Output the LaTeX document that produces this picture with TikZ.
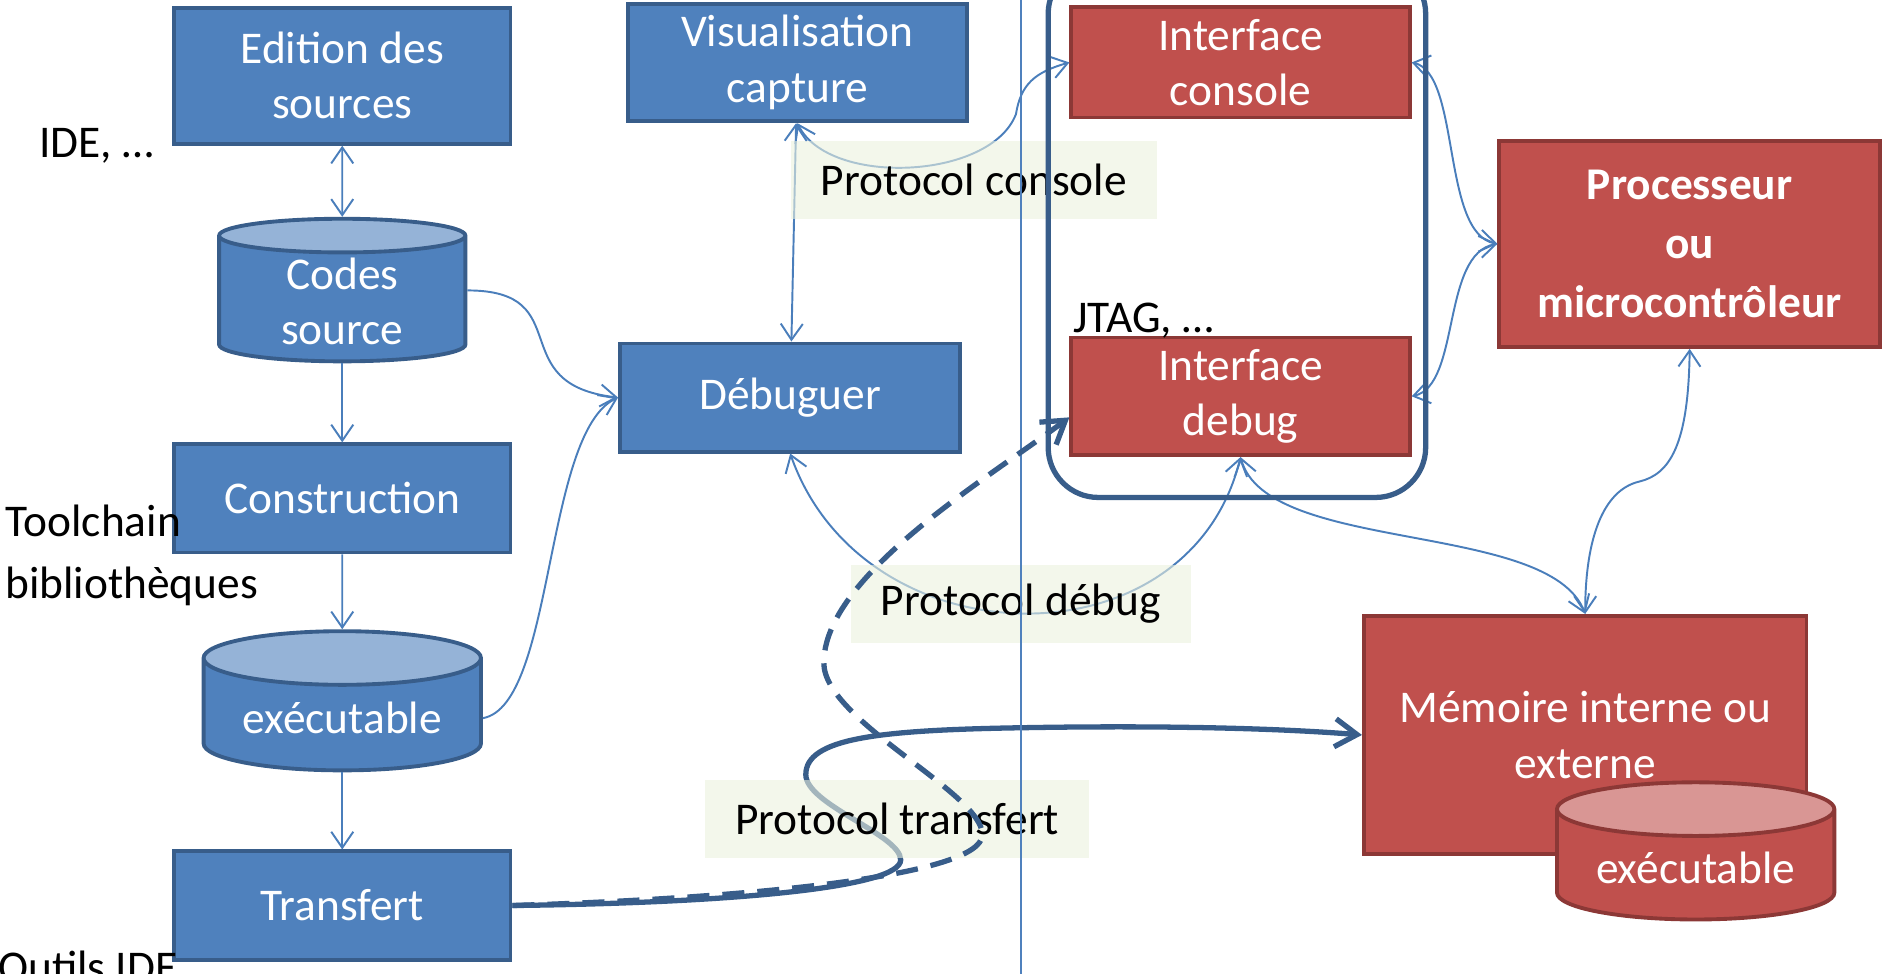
\documentclass[tikz,border=0pt]{standalone}
\usepackage{fontspec}
\setmainfont{Carlito}
\usetikzlibrary{shapes.geometric,arrows.meta}

\definecolor{boxblue}{HTML}{4F81BD}
\definecolor{edgeblue}{HTML}{385D8A}
\definecolor{topblue}{HTML}{95B3D7}
\definecolor{linkblue}{HTML}{4A7EBB}
\definecolor{boxred}{HTML}{C0504D}
\definecolor{edgered}{HTML}{8C3836}
\definecolor{topred}{HTML}{D99694}
\definecolor{tagback}{HTML}{EBF1DE}

\newcommand{\diagfont}{\fontsize{12.9}{15.7}\selectfont}

\tikzset{
  bluebox/.style={draw=edgeblue, fill=boxblue, line width=1.1pt, text=white, align=center},
  redbox/.style={draw=edgered, fill=boxred, line width=1.1pt, text=white, align=center},
  bluecyl/.style={cylinder, shape border rotate=90, aspect=0.26, inner sep=1pt, draw=edgeblue, line width=1.1pt,
    cylinder uses custom fill, cylinder body fill=boxblue, cylinder end fill=topblue,
    text=white, align=center},
  redcyl/.style={cylinder, shape border rotate=90, aspect=0.26, inner sep=1pt, draw=edgered, line width=1.1pt,
    cylinder uses custom fill, cylinder body fill=boxred, cylinder end fill=topred,
    text=white, align=center},
  link/.style={draw=linkblue, line width=0.55pt},
  bus/.style={draw=edgeblue, line width=1.5pt, -{Straight Barb[length=2.2mm,width=2.8mm]}},
  tag/.style={fill=tagback, fill opacity=0.6, text opacity=1, inner sep=0pt},
  note/.style={inner sep=0pt}
}

\begin{document}
\begin{tikzpicture}[x=0.012cm, y=-0.012cm, font=\diagfont,
  >={Straight Barb[length=1.6mm,width=2.2mm]}]
\useasboundingbox (0,0) rectangle (1568,811);
\clip (0,0) rectangle (1568,811);

% poste de developpement
\node[bluebox, minimum width=3.36cm, minimum height=1.36cm] (edition) at (285,63) {Edition des\\sources};
\node[bluecyl, minimum width=2.46cm, minimum height=1.39cm] (codes) at (285,251) {Codes\\source};
\node[bluebox, minimum width=3.36cm, minimum height=1.08cm] (construction) at (285,415) {Construction};
\node[bluecyl, minimum width=2.77cm, minimum height=1.39cm] (exe) at (285,598) {exécutable};
\node[bluebox, minimum width=3.36cm, minimum height=1.08cm] (transfert) at (285,754) {Transfert};
\node[bluebox, minimum width=3.38cm, minimum height=1.08cm] (visu) at (664,52) {Visualisation\\capture};
\node[bluebox, minimum width=3.40cm, minimum height=1.08cm] (debuguer) at (658,331) {Débuguer};

% cible
\node[redbox, minimum width=3.38cm, minimum height=1.08cm] (console) at (1033,52) {Interface\\console};
\node[redbox, minimum width=3.38cm, minimum height=1.07cm] (debug) at (1033,330) {Interface\\debug};
\node[redbox, minimum width=3.80cm, minimum height=2.06cm, font=\diagfont\bfseries] (proc) at (1407,203) {Processeur\\[1pt]ou\\[1pt]microcontrôleur};
\node[redbox, minimum width=4.42cm, minimum height=2.38cm] (memoire) at (1320,612) {Mémoire interne ou\\externe};
\node[redcyl, minimum width=2.77cm, minimum height=1.37cm] (exe2) at (1412,723) {exécutable};

% liens
\draw[link, <->] (edition) -- (codes);
\draw[link, ->] (codes) -- (construction);
\draw[link, ->] (construction) -- (exe);
\draw[link, ->] (exe) -- (transfert);
\draw[link, ->] ([yshift=1.1mm]codes.east) .. controls +(93,0) and +(-97,-11) .. (debuguer.west);
\draw[link, ->] (exe.east) .. controls +(60,-11) and +(-62,29) .. (debuguer.west);
\draw[link, <->] (visu) -- (debuguer);
\draw[link, <->] (visu.south) .. controls +(26,53) and (825,150) .. (846,95)
  .. controls (850,70) and (862,60) .. (console.west);
\draw[link, <->] (console.east) .. controls +(41,9) and +(-47,-8) .. (proc.west);
\draw[link, <->] (proc.west) .. controls +(-47,8) and +(41,-9) .. (debug.east);
\draw[link, <->] (proc.south) .. controls +(-1,81) and (1390,395) .. (1365,401)
  .. controls (1335,408) and +(0,-63) .. (memoire.north);
\draw[link, <->] (debug.south) .. controls +(22,81) and +(-30,-78) .. (memoire.north);
\draw[link, <->] (debuguer.south) .. controls +(61,174) and +(-43,176) .. (debug.south);
\draw[bus] (transfert.east) .. controls (600,752) and (750,740) .. (750,716)
  .. controls (750,695) and (671,670) .. (671,645)
  .. controls (671,615) and (730,608) .. (849,606)
  .. controls (960,604) and (1060,606) .. (memoire.west);

% protocoles
\node[tag, minimum width=3.65cm, minimum height=0.78cm] (pconsole) at (811,150) {Protocol console};
\node[tag, minimum width=3.40cm, minimum height=0.78cm] (pdebug) at (850,503) {Protocol débug};
\node[tag, minimum width=3.84cm, minimum height=0.77cm] (ptransfert) at (747,682) {Protocol transfert};

\draw[draw=boxblue, line width=0.55pt] (850,-5) -- (850,816);
\node[draw=edgeblue, line width=1.5pt, rounded corners=0.5cm, minimum width=3.77cm, minimum height=5.33cm] (cible) at (1030,192) {};
\draw[bus, dash pattern=on 2.2mm off 1.3mm] (transfert.east) .. controls (620,748) and (818,730) .. (818,695)
  .. controls (818,660) and (686,600) .. (686,552)
  .. controls (686,480) and (820,400) .. ([yshift=-2.1mm]debug.west);

% outils
\node[note, anchor=base west] (ide) at (32,131) {IDE, …};
\node[note, anchor=base west] (toolchain) at (4,447) {Toolchain};
\node[note, anchor=base west] (biblio) at (4,498) {bibliothèques};
\node[note, anchor=base west] (outils) at (-2,818) {Outils IDE};
\node[note, anchor=base west] (jtag) at (893,277) {JTAG, …};
\end{tikzpicture}
\end{document}
